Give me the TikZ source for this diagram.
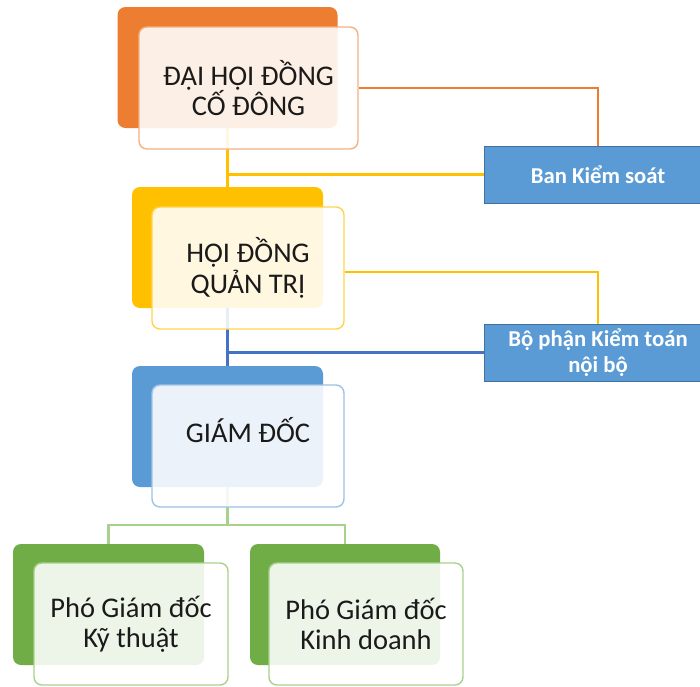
\documentclass[tikz,border=0pt]{standalone}
\usepackage{fontspec}
\setmainfont{Carlito}
\definecolor{cOr}{HTML}{ED7D31}
\definecolor{cOrL}{HTML}{F4B183}
\definecolor{cYe}{HTML}{FFC000}
\definecolor{cYeL}{HTML}{FFD44D}
\definecolor{cBl}{HTML}{5B9BD5}
\definecolor{cBlL}{HTML}{9DC3E6}
\definecolor{cBlD}{HTML}{4472C4}
\definecolor{cBlB}{HTML}{41719C}
\definecolor{cGr}{HTML}{70AD47}
\definecolor{cGrL}{HTML}{A9D18E}
\definecolor{cTx}{HTML}{1A1A1A}
\tikzset{
  backbox/.style={rectangle, rounded corners=8pt, fill=#1, draw=none, inner sep=0pt},
  frontbox/.style={rectangle, rounded corners=8pt, fill=white, fill opacity=0.88, text opacity=1, draw=#1, line width=1.4pt, inner sep=0pt, align=center, text=cTx, font=\fontsize{28.5}{30.5}\selectfont},
  sidebox/.style={rectangle, fill=cBl, draw=cBlB, line width=1pt, inner sep=0pt, align=center, text=white, font=\bfseries\fontsize{22.7}{26}\selectfont},
  link/.style={line width=2.3pt, draw=#1},
  txt/.style={inner sep=0pt, align=center, text=cTx, font=\fontsize{28.5}{30.5}\selectfont}
}
\begin{document}
\begin{tikzpicture}[x=1pt,y=-1pt]
\clip (0,0) rectangle (700,686);
\fill[white] (0,0) rectangle (700,686);
% back boxes
\node[backbox=cOr, minimum width=220pt, minimum height=121pt] (dhb) at (227.5,67.5) {};
\node[backbox=cYe, minimum width=191pt, minimum height=121pt] (hqb) at (227.5,247.5) {};
\node[backbox=cBl, minimum width=191pt, minimum height=121pt] (gdb) at (227.5,426.5) {};
\node[backbox=cGr, minimum width=191pt, minimum height=121pt] (pklb) at (108.5,604.5) {};
\node[backbox=cGr, minimum width=190pt, minimum height=121pt] (pkrb) at (345,604.5) {};
% side boxes
\node[sidebox, minimum width=228pt, minimum height=57pt] (bks) at (598,174.5) {Ban Kiểm soát};
\node[sidebox, minimum width=228pt, minimum height=57pt] (bpk) at (598,352.5) {Bộ phận Kiểm toán\\nội bộ};
% connectors
\draw[link=cYe] (dhb.south) -- (hqb.north);
\draw[link=cYe] (dhb.south |- bks.west) -- (bks.west);
\draw[link=cBlD] (hqb.south) -- (gdb.north);
\draw[link=cBlD] (hqb.south |- bpk.west) -- (bpk.west);
\coordinate (gj) at (227.5,525);
\draw[link=cGrL] (gdb.south) -- (gj);
\draw[link=cGrL] (gj) -| (pklb.north);
\draw[link=cGrL] (gj) -| (pkrb.north);
% front boxes
\node[frontbox=cOrL, minimum width=219pt, minimum height=122pt] (dhf) at (248.5,88) {ĐẠI HỘI ĐỒNG\\CỐ ĐÔNG};
\node[frontbox=cYeL, minimum width=192pt, minimum height=122pt] (hqf) at (248,268) {HỘI ĐỒNG\\QUẢN TRỊ};
\node[frontbox=cBlL, minimum width=192pt, minimum height=122pt] (gdf) at (248,446) {};
\node[txt] (gdt) at (248,430) {GIÁM ĐỐC};
\node[frontbox=cGrL, minimum width=194pt, minimum height=122pt] (pklf) at (131,624) {Phó Giám đốc\\Kỹ thuật};
\node[frontbox=cGrL, minimum width=194pt, minimum height=122pt] (pkrf) at (366,624) {Phó Giám đốc\\Kinh doanh};
% right-side links
\draw[link=cOr] (dhf.east) -| (bks.north);
\draw[link=cYe] (hqf.east) ++(0,4) coordinate (hqe) -| (bpk.north);
\end{tikzpicture}
\end{document}
